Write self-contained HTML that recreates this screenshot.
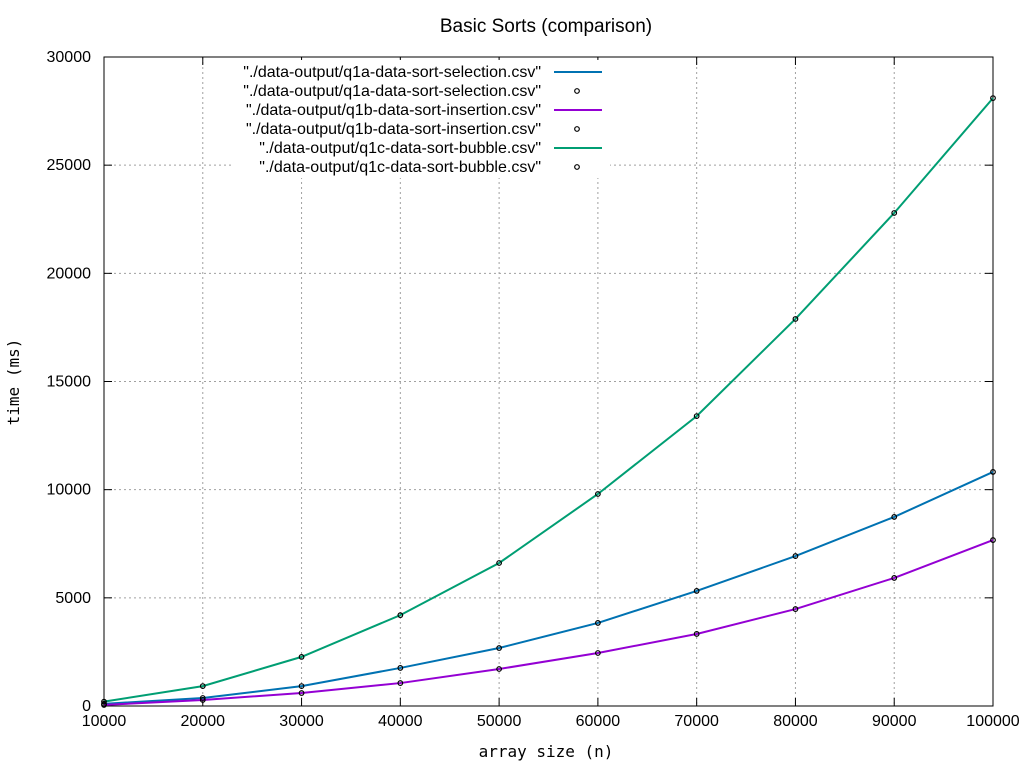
<!DOCTYPE html>
<html><head><meta charset="utf-8"><style>
html,body{margin:0;padding:0;background:#fff;width:1024px;height:768px;overflow:hidden}
svg text{font-family:"Liberation Sans",sans-serif;fill:#000}
</style></head><body>
<svg id="chart" width="1024" height="768" xmlns="http://www.w3.org/2000/svg">
<rect width="1024" height="768" fill="#fff"/>
<text x="546" y="32" text-anchor="middle" font-size="19">Basic Sorts (comparison)</text>
<text x="546" y="757" text-anchor="middle" font-size="16" style="font-family:'DejaVu Sans Mono','Liberation Mono',monospace">array size (n)</text>
<text transform="translate(19,382) rotate(-90)" text-anchor="middle" font-size="16" style="font-family:'DejaVu Sans Mono','Liberation Mono',monospace">time (ms)</text>
<g id="grid"></g><g id="series"></g><g id="legend"></g>
</svg>
<script>
const xValues=[10000,20000,30000,40000,50000,60000,70000,80000,90000,100000];
const selection=[100,370,920,1760,2680,3840,5320,6930,8740,10820];
const insertion=[50,280,600,1060,1710,2450,3330,4480,5920,7670];
const bubble=[200,920,2270,4200,6610,9800,13400,17890,22790,28100];
const xTicks=[10000,20000,30000,40000,50000,60000,70000,80000,90000,100000];
const yTicks=[0,5000,10000,15000,20000,25000,30000];
const seriesNames=['"./data-output/q1a-data-sort-selection.csv"','"./data-output/q1b-data-sort-insertion.csv"','"./data-output/q1c-data-sort-bubble.csv"'];

const NS='http://www.w3.org/2000/svg';
const L=104,R=993,T=57,B=706;
const sx=v=>L+(v-10000)/90000*(R-L);
const sy=v=>B-v/30000*(B-T);
function mk(tag,attrs,parent){const e=document.createElementNS(NS,tag);for(const k in attrs)e.setAttribute(k,attrs[k]);parent.appendChild(e);return e;}
const grid=document.getElementById('grid'),ser=document.getElementById('series'),leg=document.getElementById('legend');
xTicks.forEach((t,i)=>{const x=sx(t);
 if(i>0&&i<xTicks.length-1){const g=mk('line',{x1:x,x2:x,y1:T,y2:B,stroke:'#a0a0a0','stroke-dasharray':'2,3','stroke-width':1},grid);
 
 }
 mk('line',{x1:x,x2:x,y1:B,y2:B-8,stroke:'#000'},grid);mk('line',{x1:x,x2:x,y1:T,y2:T+8,stroke:'#000'},grid);
 const tx=mk('text',{x:x,y:B+20,'text-anchor':'middle','font-size':16},grid);tx.textContent=t;
 
 });
yTicks.forEach((t,i)=>{const y=sy(t);
 if(i>0&&i<yTicks.length-1){const g=mk('line',{x1:L,x2:R,y1:y,y2:y,stroke:'#a0a0a0','stroke-dasharray':'2,3','stroke-width':1},grid);
 
 }
 mk('line',{x1:L,x2:L+8,y1:y,y2:y,stroke:'#000'},grid);mk('line',{x1:R,x2:R-8,y1:y,y2:y,stroke:'#000'},grid);
 const tx=mk('text',{x:L-13,y:y+5,'text-anchor':'end','font-size':16},grid);tx.textContent=t;
 
 });
mk('rect',{x:232,y:60,width:378,height:118,fill:'#fff'},grid);
const border=mk('rect',{x:L,y:T,width:R-L,height:B-T,fill:'none',stroke:'#000','stroke-width':1},grid);


const all=[selection,insertion,bubble],colors=['#0072b2','#9400d3','#009e73'],keys=['selection','insertion','bubble'];
all.forEach((d,s)=>{
 const p=mk('polyline',{points:d.map((v,i)=>sx(xValues[i])+','+sy(v)).join(' '),fill:'none',stroke:colors[s],'stroke-width':2},ser);
 
 });
all.forEach((d,s)=>{d.forEach((v,i)=>{
 const c=mk('circle',{cx:sx(xValues[i]),cy:sy(v),r:2.3,fill:'none',stroke:'#000','stroke-width':1.2},ser);
 
 });});
const rows=[72,91,110,129,148,167];
for(let s=0;s<3;s++){
 const y1=rows[2*s],y2=rows[2*s+1];
 [y1,y2].forEach(y=>{const t=mk('text',{x:541,y:y+5,'text-anchor':'end','font-size':16},leg);t.textContent=seriesNames[s];
  
  });
 const l=mk('line',{x1:554,x2:602,y1:y1,y2:y1,stroke:colors[s],'stroke-width':2},leg);
 
 
 const c=mk('circle',{cx:577,cy:y2,r:2.3,fill:'none',stroke:'#000','stroke-width':1.2},leg);
 
 
}
</script>
</body></html>
